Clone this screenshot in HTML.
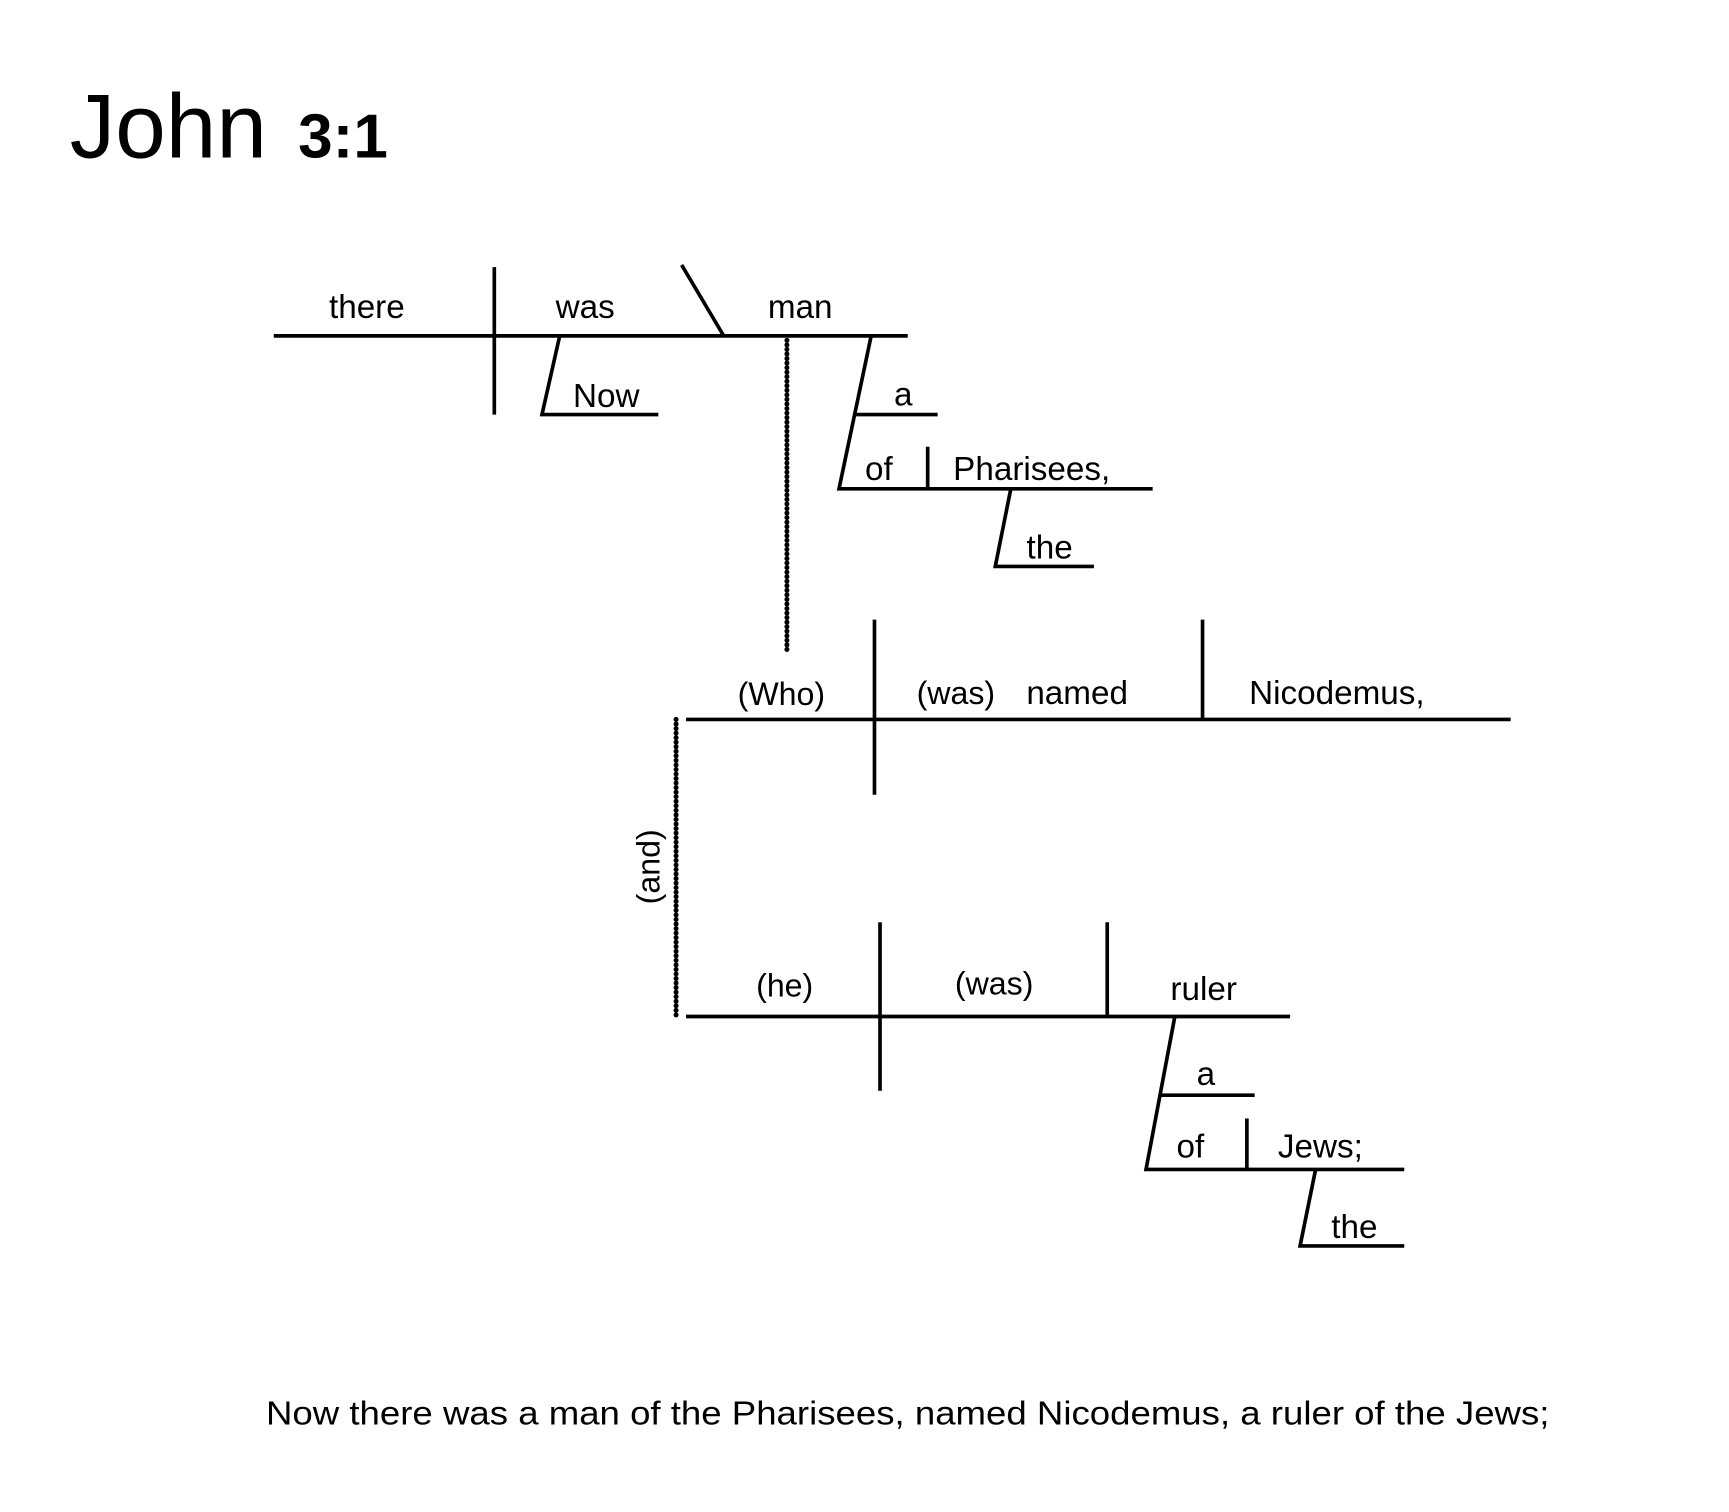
<!DOCTYPE html>
<html><head><meta charset="utf-8"><style>
html,body{margin:0;padding:0;background:#fff;}
svg{display:block;}
text{font-family:"Liberation Sans",Arial,sans-serif;fill:#000;}
</style></head><body>
<svg width="1729" height="1512" viewBox="3 1 1560 1364" preserveAspectRatio="none" xmlns="http://www.w3.org/2000/svg">
<text x="66" y="143" font-size="82">John</text>
<text x="272" y="143" font-size="56" font-weight="bold">3:1</text>
<g stroke="#000" stroke-width="3.3" fill="none">
<line x1="250" y1="304" x2="822" y2="304"/>
<line x1="449" y1="242" x2="449" y2="375"/>
<line x1="618" y1="240" x2="656" y2="304"/>
<polyline points="508,304 492,375 597,375"/>
<polyline points="789,304 760,442 1043,442"/>
<line x1="775" y1="375" x2="849" y2="375"/>
<line x1="840" y1="404" x2="840" y2="442"/>
<polyline points="915,442 901,512 990,512"/>
<line x1="622" y1="650" x2="1366" y2="650"/>
<line x1="792" y1="560" x2="792" y2="718"/>
<line x1="1088" y1="560" x2="1088" y2="650"/>
<line x1="622" y1="918" x2="1167" y2="918"/>
<line x1="797" y1="833" x2="797" y2="985"/>
<line x1="1002" y1="833" x2="1002" y2="918"/>
<polyline points="1063,918 1037,1056 1270,1056"/>
<line x1="1050" y1="989" x2="1135" y2="989"/>
<line x1="1128" y1="1010" x2="1128" y2="1056"/>
<polyline points="1190,1056 1176,1125 1270,1125"/>
</g>
<g stroke="#000" stroke-width="4.5" stroke-dasharray="0.1 4" stroke-linecap="round" fill="none">
<line x1="713" y1="308" x2="713" y2="588"/>
<line x1="613" y1="650" x2="613" y2="920"/>
</g>
<g font-size="30" text-anchor="middle">
<text x="334" y="288">there</text>
<text x="531" y="288">was</text>
<text x="725" y="288">man</text>
<text x="550" y="368">Now</text>
<text x="818" y="367">a</text>
<text x="796" y="434">of</text>
<text x="950" y="505">the</text>
<text x="708" y="637" font-size="29">(Who)</text>
<text x="711" y="900" font-size="29">(he)</text>
<text x="900" y="898" font-size="29">(was)</text>
<text x="1089" y="903">ruler</text>
<text x="1091" y="980">a</text>
<text x="1077" y="1045">of</text>
<text x="1225" y="1118">the</text>
</g>
<g font-size="30">
<text x="863" y="434">Pharisees,</text>
<text x="830" y="636" font-size="29">(was)</text>
<text x="929" y="636">named</text>
<text x="1130" y="636">Nicodemus,</text>
<text x="1156" y="1045">Jews;</text>
<text x="243" y="1286" textLength="1158" lengthAdjust="spacingAndGlyphs">Now there was a man of the Pharisees, named Nicodemus, a ruler of the Jews;</text>
</g>
<text x="0" y="0" font-size="29" text-anchor="middle" transform="translate(598,783) rotate(-90)">(and)</text>
</svg>
</body></html>
